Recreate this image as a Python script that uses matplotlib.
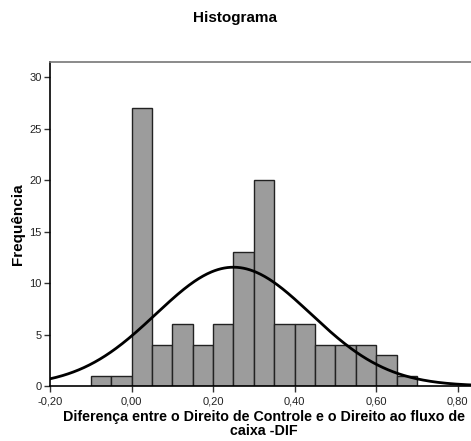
import numpy as np
import matplotlib.pyplot as plt

plt.rcParams['font.family'] = ['Liberation Sans', 'DejaVu Sans']

bin_edges = [-0.10, -0.05, 0.00, 0.05, 0.10, 0.15, 0.20, 0.25, 0.30,
             0.35, 0.40, 0.45, 0.50, 0.55, 0.60, 0.65, 0.70]
freq = [1, 1, 27, 4, 6, 4, 6, 13, 20, 6, 6, 4, 4, 4, 3, 1]

# Parametros da curva normal ajustada
media = 0.25
desvio = 0.19
n_total = sum(freq)
largura = 0.05

xticks = [-0.20, 0.00, 0.20, 0.40, 0.60, 0.80]
xtick_labels = ['-0,20', '0,00', '0,20', '0,40', '0,60', '0,80']
yticks = [0, 5, 10, 15, 20, 25, 30]

W, H = 471, 441
fig = plt.figure(figsize=(W / 100, H / 100), dpi=100)
ax = fig.add_axes([50 / W, 1 - 386 / H, 1 - 50 / W + 0.002, (386 - 62) / H])

lefts = bin_edges[:-1]
widths = np.diff(bin_edges)
ax.bar(lefts, freq, width=widths, align='edge', color='#9c9c9c',
       edgecolor='#222222', linewidth=1.0, zorder=2)

xs = np.linspace(-0.2, 0.84, 400)
ys = n_total * largura / (desvio * np.sqrt(2 * np.pi)) * np.exp(-0.5 * ((xs - media) / desvio) ** 2)
ax.plot(xs, ys, color='black', linewidth=2.0, zorder=3)

ax.set_xlim(-0.2, 0.835)
ax.set_ylim(0, 31.5)
ax.set_xticks(xticks)
ax.set_xticklabels(xtick_labels)
ax.set_yticks(yticks)
ax.tick_params(axis='both', labelsize=8, length=4, width=1, color='#333333', labelcolor='#222222')
ax.tick_params(axis='x', pad=3.5)
ax.tick_params(axis='y', pad=2)

ax.spines['right'].set_visible(False)
ax.spines['top'].set_color('#777777')
ax.spines['top'].set_linewidth(1.2)
ax.spines['left'].set_linewidth(1.2)
ax.spines['bottom'].set_linewidth(1.2)

ax.set_ylabel('Frequência', fontsize=11, fontweight='bold', labelpad=3)
fig.text(264 / W, 1 - 424 / H,
         'Diferença entre o Direito de Controle e o Direito ao fluxo de\ncaixa -DIF',
         ha='center', va='center', fontsize=10.3, fontweight='bold', linespacing=1.0)
fig.text(0.5, 1 - 18 / H, 'Histograma', ha='center', va='center', fontsize=11, fontweight='bold')

fig.savefig('out.png', dpi=100)
